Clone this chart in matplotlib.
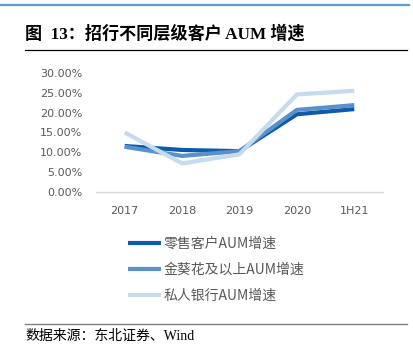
import matplotlib
matplotlib.use("Agg")
import matplotlib.pyplot as plt
from matplotlib.lines import Line2D
from matplotlib.ticker import FuncFormatter

plt.rcParams['font.family'] = ['Noto Sans CJK SC', 'DejaVu Sans']

categories = ["2017", "2018", "2019", "2020", "1H21"]
retail = [0.116, 0.106, 0.103, 0.196, 0.209]
golden = [0.114, 0.091, 0.103, 0.207, 0.219]
private = [0.150, 0.072, 0.095, 0.246, 0.255]
series_names = ["零售客户AUM增速", "金葵花及以上AUM增速", "私人银行AUM增速"]
colors = ["#0D5BAA", "#5A91CA", "#C7DBEF"]

W, H = 413, 352
fig = plt.figure(figsize=(W / 100, H / 100), dpi=100)

serif_mix = ['Liberation Serif', 'Noto Sans CJK SC']

# top decoration line
fig.add_artist(Line2D([0, 409 / W], [1 - 5 / H, 1 - 5 / H], color="#5B9BD5", lw=1.6))
# title
fig.text(25 / W, 1 - 34 / H, "图  13：招行不同层级客户 AUM 增速", fontsize=12.3,
         fontweight="bold", va="center", ha="left", color="black", family=serif_mix)
fig.add_artist(Line2D([25 / W, 407 / W], [1 - 50 / H, 1 - 50 / H], color="black", lw=0.9))
# bottom line and source
fig.add_artist(Line2D([25 / W, 407 / W], [1 - 324 / H, 1 - 324 / H], color="#808080", lw=1.0))
fig.text(25 / W, 1 - 336 / H, "数据来源：东北证券、Wind", fontsize=10, va="center",
         ha="left", color="black", family=serif_mix)

ax = fig.add_axes([96 / W, 1 - 192 / H, (383 - 96) / W, (192 - 73) / H])
x = list(range(len(categories)))
for vals, name, c in zip([retail, golden, private], series_names, colors):
    ax.plot(x, vals, color=c, lw=3.0, label=name, solid_capstyle="butt")

ax.set_xlim(-0.5, len(categories) - 0.5)
ax.set_ylim(0, 0.30)
ax.set_yticks([0, 0.05, 0.10, 0.15, 0.20, 0.25, 0.30])
ax.yaxis.set_major_formatter(FuncFormatter(lambda v, p: f"{v * 100:.2f}%"))
ax.set_xticks(x)
ax.set_xticklabels(categories)
for s in ["top", "right", "left"]:
    ax.spines[s].set_visible(False)
ax.spines["bottom"].set_color("#D9D9D9")
ax.spines["bottom"].set_linewidth(1.0)
ax.tick_params(axis="both", length=0, labelsize=8, labelcolor="#595959")
ax.tick_params(axis="x", pad=10)
ax.tick_params(axis="y", pad=10)
for lab in ax.get_yticklabels() + ax.get_xticklabels():
    lab.set_family(["DejaVu Sans"])

fig.legend(loc="upper left", bbox_to_anchor=(128 / W, 1 - 237 / H), frameon=False,
           fontsize=10, labelcolor="#595959", handlelength=2.4, handletextpad=0.15,
           labelspacing=0.85, borderaxespad=0, borderpad=0)

fig.savefig("out.png", dpi=100)
